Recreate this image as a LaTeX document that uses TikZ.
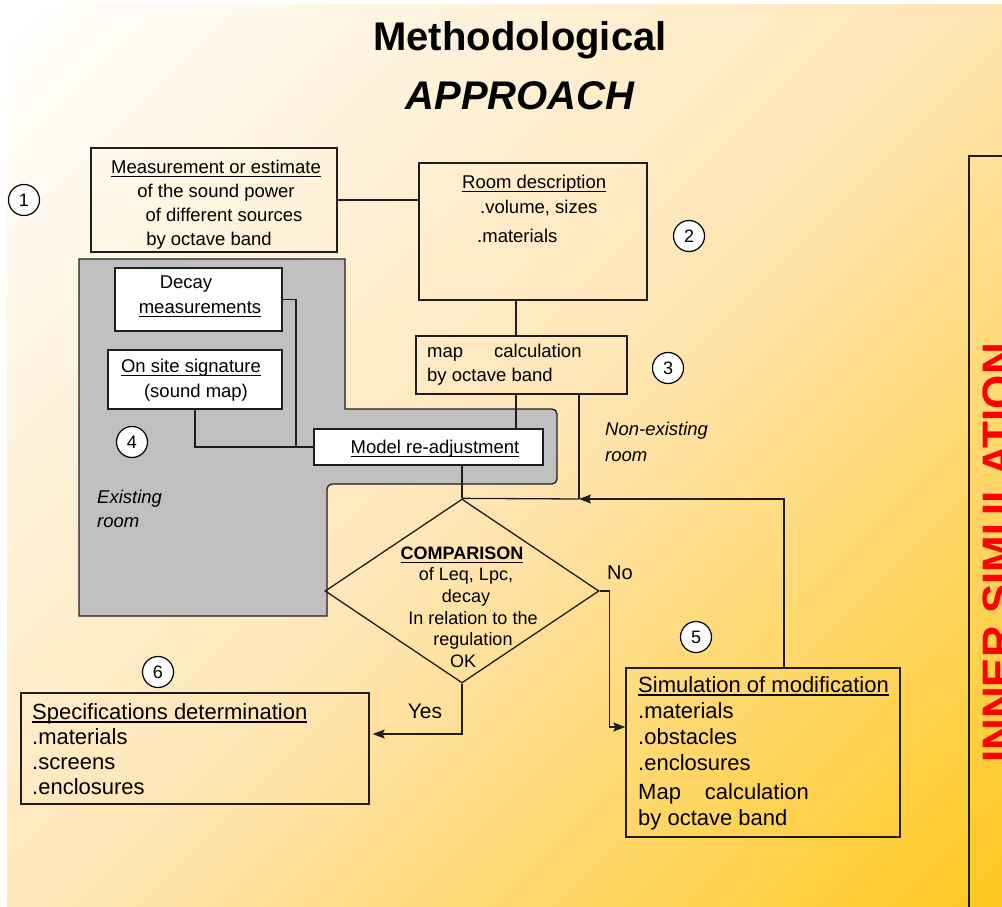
\documentclass[tikz,border=0pt]{standalone}
\usepackage{fontspec}
\setmainfont{Liberation Sans}
\usetikzlibrary{arrows.meta,shapes.geometric}

\definecolor{bgmid}{HTML}{FFE6B6}
\definecolor{bgend}{HTML}{FFC81E}
\definecolor{roomgray}{HTML}{C0C0C0}
\definecolor{inkline}{HTML}{1E1E1E}

% underline with a firmer rule
\newcommand{\ulin}[1]{\setbox0=\hbox{#1}\leavevmode\rlap{\rule[-3.5pt]{\wd0}{1.2pt}}\box0}

\begin{document}
\begin{tikzpicture}[x=1pt,y=-1pt,
    box/.style={draw=inkline, line width=1.3pt, inner sep=0pt},
    whitebox/.style={box, fill=white},
    txt/.style={inner sep=0pt, align=left, font=\fontsize{18.5}{24}\selectfont},
    link/.style={draw=inkline, line width=1.3pt},
    flow/.style={link, -{Stealth[length=12pt,width=9pt,inset=2pt]}},
    num/.style={circle, draw=black, fill=white, line width=1.2pt,
      minimum size=31pt, inner sep=0pt, font=\fontsize{18}{18}\selectfont}]

    % background, diagonal bands from white to yellow
    \useasboundingbox (0,0) rectangle (1002,907);
    \fill[white] (0,0) rectangle (1002,907);
    \begin{scope}
      \clip (7,5) rectangle (1002,907);
      \foreach \i in {0,...,99} {
        \pgfmathsetmacro{\ca}{12+\i*19}
        \pgfmathsetmacro{\cb}{\ca+20}
        \pgfmathtruncatemacro{\p}{\i<50 ? 2*\i : 2*(\i-50)}
        \ifnum\i<50 \def\bandcol{bgmid!\p!white}\else\def\bandcol{bgend!\p!bgmid}\fi
        \fill[fill=\bandcol] (\ca+1000,-1000) -- (\cb+1000,-1000)
          -- (\cb-1000,1000) -- (\ca-1000,1000) -- cycle;
      }
    \end{scope}

    \node[font=\fontsize{40}{59}\selectfont\bfseries, align=center,
      inner sep=0pt, anchor=north] (title) at (520,21)
      {Methodological\\\itshape APPROACH};

    % existing room area
    \draw[fill=roomgray, draw=inkline, line width=1.3pt]
      (79,259) -- (345,259) -- (345,409) [rounded corners=5pt] -- (557,409) -- (557,484)
      -- (327,484) [sharp corners] -- (327,616) -- (79,616) -- cycle;

    % boxes
    \node[box, minimum width=246, minimum height=104] (meas) at (214,200) {};
    \node[box, minimum width=228, minimum height=137] (room) at (533,231.5) {};
    \node[box, minimum width=211, minimum height=58] (map) at (521.5,365) {};
    \node[whitebox, minimum width=167, minimum height=63] (decay) at (198.5,299.5) {};
    \node[whitebox, minimum width=174, minimum height=59] (site) at (195,379.5) {};
    \node[whitebox, minimum width=229, minimum height=36] (model) at (428.5,447) {};
    \node[box, diamond, aspect=1.49, minimum width=274, minimum height=184] (cmp) at (462,591) {};
    \node[box, minimum width=274, minimum height=169] (sim) at (763,752.5) {};
    \node[box, minimum width=348, minimum height=111] (spec) at (195,748.5) {};
    \node[box, minimum width=50, minimum height=760] (inner) at (994,536) {};

    % connectors
    \coordinate (jn) at (296,447);
    \coordinate (merge) at (579,499);
    \coordinate (mapin) at ([xshift=-5.5pt]map.north);
    \coordinate (mapout) at ([xshift=-5.5pt]map.south);
    \coordinate (mapnx) at ([xshift=57.5pt]map.south);
    \draw[link] (meas.east) -- (meas.east -| room.west);
    \draw[link] (mapin) -- (mapin |- room.south);
    \draw[link] (mapout) -- (mapout |- model.north);
    \draw[link] (mapnx) -- (merge);
    \draw[link] (decay.east) -| (jn) -- (model.west);
    \draw[link] (site.south) |- (jn);
    \draw[link] (model.south -| cmp.north) -- (cmp.north);
    \draw[flow] ([xshift=21pt]sim.north) |- (merge);
    \draw[link] (merge) -- (cmp.north);
    \draw[flow] (cmp.east) -- ++(10,0) |- ([yshift=25.5pt]sim.west);
    \draw[flow, shorten >=3pt] (cmp.south) |- ([yshift=14.5pt]spec.east);

    % texts
    \node[txt, align=center, anchor=north] (meast) at (216,160)
      {\ulin{Measurement or estimate}\\ of the sound power\\
       \hspace*{16pt}of different sources\\ by octave band\hspace*{14pt}};
    \node[txt, anchor=north west, font=\fontsize{18.5}{25}\selectfont] (roomt) at (462,175)
      {\ulin{Room description}\\ \hspace*{18pt}.volume, sizes\\[4pt] \hspace*{15pt}.materials};
    \node[txt, anchor=north west] (mapt) at (427,344)
      {map\hspace{31pt}calculation\\ by octave band};
    \node[txt, align=center, anchor=north, font=\fontsize{18.5}{25}\selectfont] (decayt) at (200,276)
      {Decay\hspace*{28pt}\\ \ulin{measurements}};
    \node[txt, align=center, anchor=north, font=\fontsize{18.5}{25}\selectfont] (sitet) at (191,359)
      {\ulin{On site signature}\\ \hspace*{10pt}(sound map)};
    \node[txt, anchor=north] (modelt) at (435,440) {\ulin{Model re-adjustment}};
    \node[txt, align=center, anchor=north, font=\fontsize{18}{21.6}\selectfont] (cmpt) at (466,546.5)
      {\textbf{\ulin{COMPARISON}}\hspace*{8pt}\\ of Leq, Lpc,\\ decay\\
       \hspace*{14pt}In relation to the\\ \hspace*{14pt}regulation\\ OK\hspace*{6pt}};
    \node[txt, anchor=north west, font=\fontsize{22}{26}\selectfont] (simt) at (638,676)
      {\ulin{Simulation of modification}\\ .materials\\ .obstacles\\ .enclosures\\[3pt]
       Map\hspace{24pt}calculation\\ by octave band};
    \node[txt, anchor=north west, font=\fontsize{22}{25}\selectfont] (spect) at (32,703)
      {\ulin{Specifications determination}\\ .materials\\ .screens\\ .enclosures};
    \node[txt, anchor=north west, font=\fontsize{18.5}{24}\selectfont\itshape] (exist) at (97,490)
      {Existing\\ room};
    \node[txt, anchor=north west, font=\fontsize{18.5}{26}\selectfont\itshape] (nonexist) at (605,422)
      {Non-existing\\ room};
    \node[txt, font=\fontsize{20}{20}\selectfont] (no) at (620,573) {No};
    \node[txt, font=\fontsize{21}{21}\selectfont] (yes) at (425,711) {Yes};
    \node[inner sep=0pt, rotate=90, text=red, font=\fontsize{44}{44}\selectfont\bfseries] (innert)
      at (998,553) {INNER SIMULATION};

    % step numbers
    \foreach \n/\px/\py in {1/24/200, 2/689/236, 3/668/368, 4/132/442, 5/696/637, 6/158/672}
      \node[num] (c\n) at (\px,\py) {\n};
\end{tikzpicture}
\end{document}
